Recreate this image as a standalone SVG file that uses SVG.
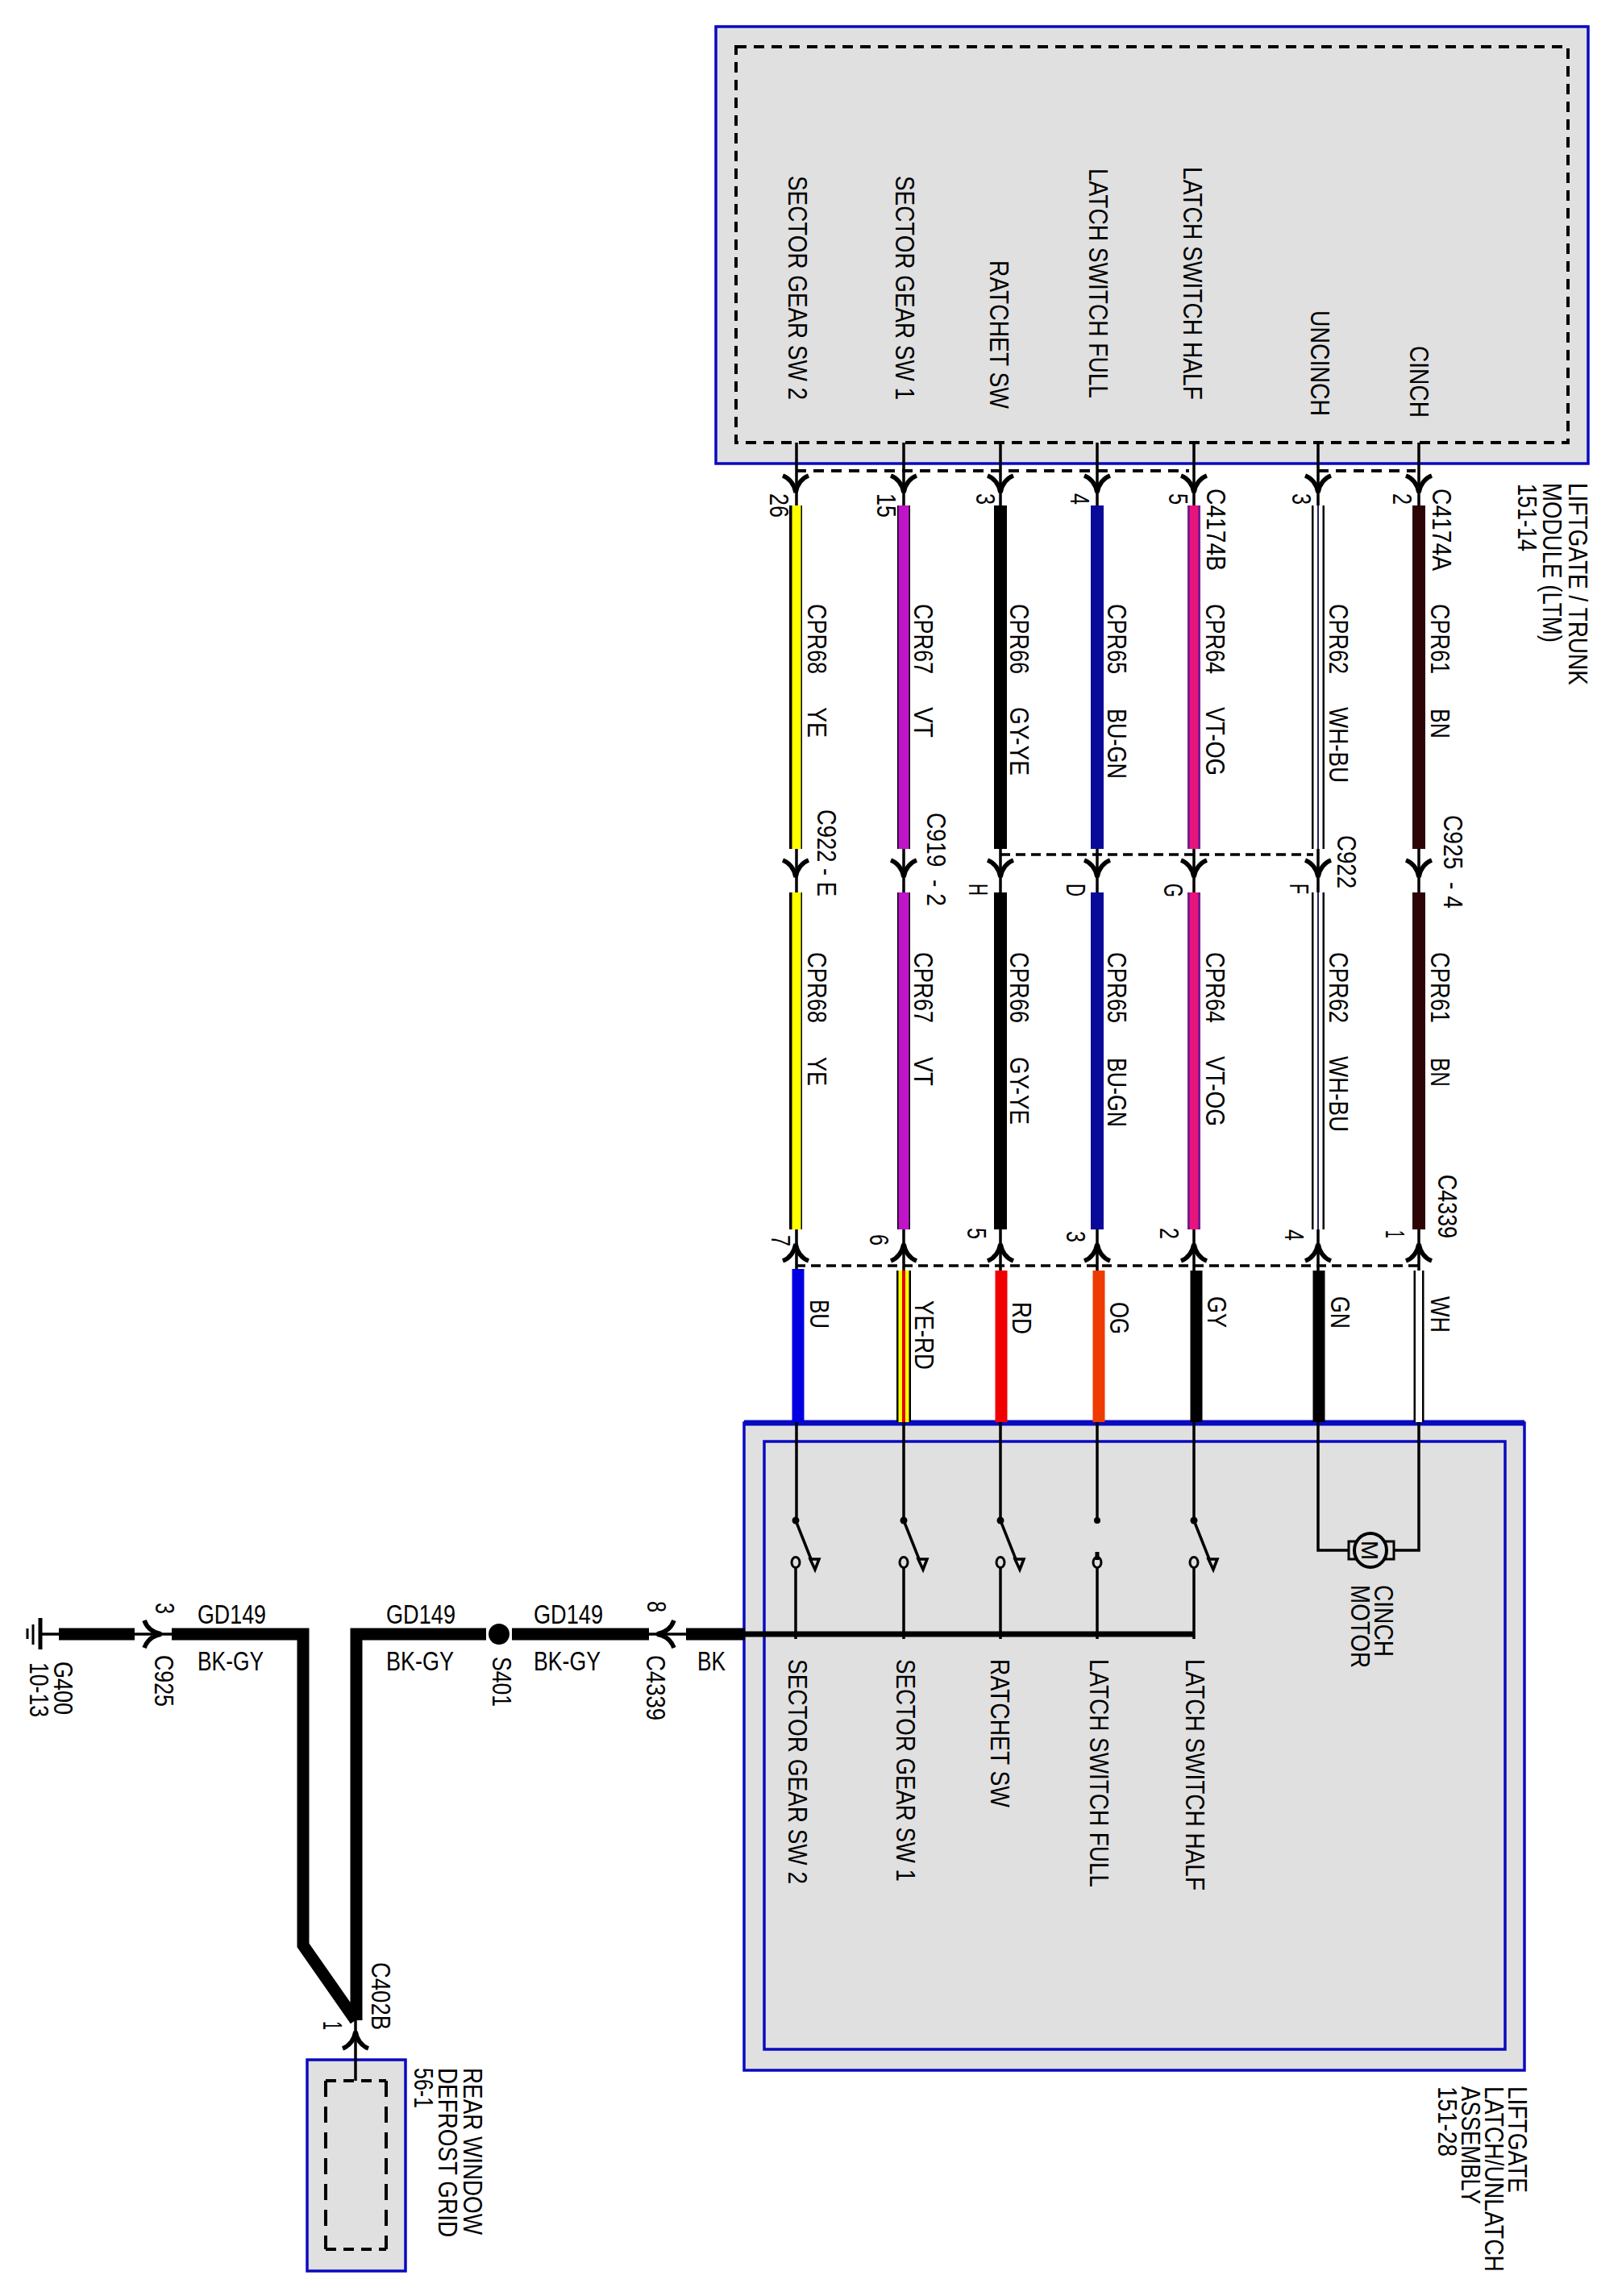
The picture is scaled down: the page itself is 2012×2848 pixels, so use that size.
<svg xmlns="http://www.w3.org/2000/svg" width="2012" height="2848" viewBox="0 0 2012 2848">
<style>
text{font-family:"Liberation Sans",Arial,sans-serif;font-size:34px;fill:#000}
.box{fill:#e0e0e0;stroke:#0a0ac0;stroke-width:3.5}
.dash{fill:none;stroke:#000;stroke-width:4;stroke-dasharray:13 9}
.dash2{fill:none;stroke:#000;stroke-width:3.5;stroke-dasharray:12 7}
.thin{stroke:#000;stroke-width:3.5;fill:none}
.thick{stroke:#000;stroke-width:15;fill:none}
.cont{fill:none;stroke:#000;stroke-width:3}
.chev{fill:none;stroke:#000;stroke-width:5.5}
</style>
<defs>
<path id="dn" class="chev" d="M-16-11Q-3-6 0 10Q3-6 16-11"/>
<path id="up" class="chev" d="M-16 11Q-3 6 0-10Q3 6 16 11"/>
<path id="rt" class="chev" d="M-11-17Q-6-3 10 0Q-6 3-11 17"/>
<path id="lf" class="chev" d="M11-17Q6-3-10 0Q6 3 11 17"/>
<g id="sw">
<circle cx="0" cy="1886" r="4.5"/>
<path class="thin" d="M0 1886L19 1934M0 1945V2033"/>
<ellipse class="cont" cx="0" cy="1938" rx="5" ry="6.5"/>
<path d="M18 1934h11l-5 13z" fill="none" stroke="#000" stroke-width="3.5"/>
</g>
</defs>

<g id="module-ltm">
<rect class="box" x="888" y="33" width="1082" height="542"/>
<rect class="dash" x="913" y="58" width="1032" height="491"/>
<g transform="translate(3 0)">
<text transform="translate(975 218) rotate(90)" textLength="278" lengthAdjust="spacingAndGlyphs">SECTOR GEAR SW 2</text>
<text transform="translate(1108 218) rotate(90)" textLength="278" lengthAdjust="spacingAndGlyphs">SECTOR GEAR SW 1</text>
<text transform="translate(1225 323) rotate(90)" textLength="184" lengthAdjust="spacingAndGlyphs">RATCHET SW</text>
<text transform="translate(1348 209) rotate(90)" textLength="285" lengthAdjust="spacingAndGlyphs">LATCH SWITCH FULL</text>
<text transform="translate(1465 207) rotate(90)" textLength="289" lengthAdjust="spacingAndGlyphs">LATCH SWITCH HALF</text>
<text transform="translate(1623 385) rotate(90)" textLength="131" lengthAdjust="spacingAndGlyphs">UNCINCH</text>
<text transform="translate(1746 429) rotate(90)" textLength="89" lengthAdjust="spacingAndGlyphs">CINCH</text>
<text transform="translate(1943 599) rotate(90)" textLength="251" lengthAdjust="spacingAndGlyphs">LIFTGATE / TRUNK</text>
<text transform="translate(1911 599) rotate(90)" textLength="198" lengthAdjust="spacingAndGlyphs">MODULE (LTM)</text>
<text transform="translate(1880 600) rotate(90)" textLength="84" lengthAdjust="spacingAndGlyphs">151-14</text>
</g>
</g>

<g id="module-latch">
<rect class="box" x="923" y="1765" width="968" height="803"/>
<path d="M923 1765H1891" stroke="#0a0ac0" stroke-width="7"/>
<rect class="box" x="948" y="1788" width="919" height="754"/>
<g transform="translate(3 0)">
<text transform="translate(975 2058) rotate(90)" textLength="279" lengthAdjust="spacingAndGlyphs">SECTOR GEAR SW 2</text>
<text transform="translate(1109 2058) rotate(90)" textLength="276" lengthAdjust="spacingAndGlyphs">SECTOR GEAR SW 1</text>
<text transform="translate(1226 2058) rotate(90)" textLength="184" lengthAdjust="spacingAndGlyphs">RATCHET SW</text>
<text transform="translate(1349 2058) rotate(90)" textLength="283" lengthAdjust="spacingAndGlyphs">LATCH SWITCH FULL</text>
<text transform="translate(1468 2058) rotate(90)" textLength="287" lengthAdjust="spacingAndGlyphs">LATCH SWITCH HALF</text>
<text transform="translate(1702 1966) rotate(90)" textLength="89" lengthAdjust="spacingAndGlyphs">CINCH</text>
<text transform="translate(1673 1966) rotate(90)" textLength="103" lengthAdjust="spacingAndGlyphs">MOTOR</text>
<text transform="translate(1868 2588) rotate(90)" textLength="132" lengthAdjust="spacingAndGlyphs">LIFTGATE</text>
<text transform="translate(1839 2588) rotate(90)" textLength="230" lengthAdjust="spacingAndGlyphs">LATCH/UNLATCH</text>
<text transform="translate(1810 2588) rotate(90)" textLength="146" lengthAdjust="spacingAndGlyphs">ASSEMBLY</text>
<text transform="translate(1781 2588) rotate(90)" textLength="87" lengthAdjust="spacingAndGlyphs">151-28</text>
</g>
</g>

<g id="module-defrost">
<rect class="box" x="381" y="2555" width="122" height="262"/>
<path class="dash" d="M404 2581H479M404 2790H479"/>
<path fill="none" stroke="#000" stroke-width="4" stroke-dasharray="20 12" d="M404 2581V2790M479 2581V2790"/>
<g transform="translate(2 0)">
<text transform="translate(573 2565) rotate(90)" textLength="207" lengthAdjust="spacingAndGlyphs">REAR WINDOW</text>
<text transform="translate(542 2565) rotate(90)" textLength="210" lengthAdjust="spacingAndGlyphs">DEFROST GRID</text>
<text transform="translate(512 2565) rotate(90)" textLength="50" lengthAdjust="spacingAndGlyphs">56-1</text>
</g>
</g>

<g id="connectors">
<path class="thin" d="M988 549V1886M1121 549V1886M1241 549V1886M1361 549V1886M1481 549V1886M1635 549V1923H1673M1760 549V1923H1729"/>
<path stroke="#000" stroke-width="16" d="M987 627V1053M987 1107V1525M1121 627V1053M1121 1107V1525M1241 627V1053M1241 1107V1525M1361 627V1053M1361 1107V1525M1481 627V1053M1481 1107V1525M1635 627V1053M1635 1107V1525"/>
<g fill="none">
<path stroke="#ffff00" stroke-width="11" d="M988 627V1053M988 1107V1525"/>
<path stroke="#c014c8" stroke-width="13" d="M1121 627V1053M1121 1107V1525"/>
<path stroke="#0a0a9a" stroke-width="16" d="M1361 627V1053M1361 1107V1525"/>
<path stroke="#7a1a8a" stroke-width="16" d="M1481 627V1053M1481 1107V1525"/>
<path stroke="#e8147c" stroke-width="10" d="M1481 627V1053M1481 1107V1525"/>
<path stroke="#fff" stroke-width="11" d="M1635 627V1053M1635 1107V1525"/>
<path stroke="#222266" stroke-width="2" d="M1635 627V1053M1635 1107V1525"/>
<path stroke="#2d0506" stroke-width="16" d="M1760 627V1053M1760 1107V1525"/>
</g>
<g fill="none" stroke-width="15">
<path stroke="#0000e0" d="M990 1574V1764"/>
<path stroke="#000" stroke-width="18" d="M1121 1576V1764"/>
<path stroke="#ffff00" stroke-width="13" d="M1121 1576V1764"/>
<path stroke="#e00000" stroke-width="4" d="M1121 1576V1764"/>
<path stroke="#f00000" d="M1242 1576V1764"/>
<path stroke="#ee3c00" d="M1363 1576V1764"/>
<path stroke="#000" d="M1484 1576V1764M1636 1576V1764"/>
<path stroke="#000" stroke-width="13" d="M1760 1576V1764"/>
<path stroke="#fff" stroke-width="8" d="M1760 1576V1764"/>
</g>
<path class="thick" d="M73 2027H167M213 2027H376V2413L441 2506M442 2506V2027H603M635 2027H805M851 2027H924"/>
<path stroke="#000" stroke-width="7" d="M924 2027H1482"/>
<path class="thin" d="M50 2027H73M167 2027H213M805 2027H851M441 2506V2581"/>
<path class="dash" d="M987 584H1475M1635 584H1756"/>
<path class="dash2" d="M1241 1060H1629M987 1570H1760"/>
</g>

<g id="arrows">
<use href="#dn" x="987" y="601"/><use href="#dn" x="1121" y="601"/><use href="#dn" x="1241" y="601"/><use href="#dn" x="1361" y="601"/><use href="#dn" x="1481" y="601"/><use href="#dn" x="1635" y="601"/><use href="#dn" x="1760" y="601"/>
<use href="#dn" x="987" y="1078"/><use href="#dn" x="1121" y="1078"/><use href="#dn" x="1241" y="1078"/><use href="#dn" x="1361" y="1078"/><use href="#dn" x="1481" y="1078"/><use href="#dn" x="1635" y="1078"/><use href="#dn" x="1760" y="1078"/>
<use href="#up" x="987" y="1553"/><use href="#up" x="1121" y="1553"/><use href="#up" x="1241" y="1553"/><use href="#up" x="1361" y="1553"/><use href="#up" x="1481" y="1553"/><use href="#up" x="1635" y="1553"/><use href="#up" x="1760" y="1553"/>
<use href="#rt" x="190" y="2027"/><use href="#lf" x="825" y="2027"/><use href="#up" x="441" y="2530"/>
</g>

<g id="switches">
<use href="#sw" x="987"/><use href="#sw" x="1121"/><use href="#sw" x="1241"/><use href="#sw" x="1481"/>
<g id="switch-full">
<circle cx="1361" cy="1886" r="4"/><path stroke="#000" stroke-width="5" d="M1361 1925V1935"/>
<ellipse class="cont" cx="1361" cy="1938" rx="5" ry="6.5"/><path class="thin" d="M1361 1945V2033"/>
</g>
</g>

<g id="motor">
<rect x="1673" y="1912" width="56" height="22" fill="none" stroke="#000" stroke-width="3"/>
<ellipse cx="1700" cy="1923" rx="20" ry="21" fill="#e0e0e0" stroke="#000" stroke-width="4"/>
<text transform="translate(1689 1911) rotate(90)" textLength="24" lengthAdjust="spacingAndGlyphs" style="font-size:30px">M</text>
</g>

<g id="ground-g400">
<path stroke="#000" stroke-width="5" d="M50 2007V2046"/>
<path stroke="#000" stroke-width="3" d="M41 2015V2040M34 2020V2033"/>
<g transform="translate(2 0)">
<text transform="translate(65 2061) rotate(90)" textLength="66" lengthAdjust="spacingAndGlyphs">G400</text>
<text transform="translate(35 2062) rotate(90)" textLength="68" lengthAdjust="spacingAndGlyphs">10-13</text>
</g>
</g>
<g id="splice-s401">
<ellipse cx="619" cy="2027" rx="13" ry="13"/>
<text transform="translate(611 2055) rotate(90)" textLength="62" lengthAdjust="spacingAndGlyphs">S401</text>
</g>

<g id="labels-horizontal">
<text x="245" y="2014" textLength="85" lengthAdjust="spacingAndGlyphs">GD149</text>
<text x="245" y="2072" textLength="82" lengthAdjust="spacingAndGlyphs">BK-GY</text>
<text x="479" y="2014" textLength="86" lengthAdjust="spacingAndGlyphs">GD149</text>
<text x="479" y="2072" textLength="84" lengthAdjust="spacingAndGlyphs">BK-GY</text>
<text x="662" y="2014" textLength="86" lengthAdjust="spacingAndGlyphs">GD149</text>
<text x="662" y="2072" textLength="83" lengthAdjust="spacingAndGlyphs">BK-GY</text>
<text x="865" y="2072" textLength="35" lengthAdjust="spacingAndGlyphs">BK</text>
</g>
<g id="labels" transform="translate(3 0)">
<text transform="translate(190 1988) rotate(90)" textLength="14" lengthAdjust="spacingAndGlyphs">3</text>
<text transform="translate(800 1986) rotate(90)" textLength="14" lengthAdjust="spacingAndGlyphs">8</text>
<text transform="translate(189 2053) rotate(90)" textLength="64" lengthAdjust="spacingAndGlyphs">C925</text>
<text transform="translate(799 2053) rotate(90)" textLength="81" lengthAdjust="spacingAndGlyphs">C4339</text>
<text transform="translate(458 2434) rotate(90)" textLength="84" lengthAdjust="spacingAndGlyphs">C402B</text>
<text transform="translate(398 2507) rotate(90)" textLength="11" lengthAdjust="spacingAndGlyphs">1</text>

<text transform="translate(999 749) rotate(90)" textLength="87" lengthAdjust="spacingAndGlyphs">CPR68</text>
<text transform="translate(999 877) rotate(90)" textLength="38" lengthAdjust="spacingAndGlyphs">YE</text>
<text transform="translate(1131 749) rotate(90)" textLength="87" lengthAdjust="spacingAndGlyphs">CPR67</text>
<text transform="translate(1131 877) rotate(90)" textLength="38" lengthAdjust="spacingAndGlyphs">VT</text>
<text transform="translate(1250 749) rotate(90)" textLength="87" lengthAdjust="spacingAndGlyphs">CPR66</text>
<text transform="translate(1250 877) rotate(90)" textLength="85" lengthAdjust="spacingAndGlyphs">GY-YE</text>
<text transform="translate(1371 749) rotate(90)" textLength="87" lengthAdjust="spacingAndGlyphs">CPR65</text>
<text transform="translate(1371 879) rotate(90)" textLength="87" lengthAdjust="spacingAndGlyphs">BU-GN</text>
<text transform="translate(1493 749) rotate(90)" textLength="87" lengthAdjust="spacingAndGlyphs">CPR64</text>
<text transform="translate(1493 877) rotate(90)" textLength="85" lengthAdjust="spacingAndGlyphs">VT-OG</text>
<text transform="translate(1646 749) rotate(90)" textLength="87" lengthAdjust="spacingAndGlyphs">CPR62</text>
<text transform="translate(1646 877) rotate(90)" textLength="94" lengthAdjust="spacingAndGlyphs">WH-BU</text>
<text transform="translate(1772 749) rotate(90)" textLength="87" lengthAdjust="spacingAndGlyphs">CPR61</text>
<text transform="translate(1772 879) rotate(90)" textLength="37" lengthAdjust="spacingAndGlyphs">BN</text>

<text transform="translate(999 1181) rotate(90)" textLength="88" lengthAdjust="spacingAndGlyphs">CPR68</text>
<text transform="translate(999 1311) rotate(90)" textLength="36" lengthAdjust="spacingAndGlyphs">YE</text>
<text transform="translate(1131 1181) rotate(90)" textLength="88" lengthAdjust="spacingAndGlyphs">CPR67</text>
<text transform="translate(1131 1311) rotate(90)" textLength="36" lengthAdjust="spacingAndGlyphs">VT</text>
<text transform="translate(1250 1181) rotate(90)" textLength="88" lengthAdjust="spacingAndGlyphs">CPR66</text>
<text transform="translate(1250 1311) rotate(90)" textLength="84" lengthAdjust="spacingAndGlyphs">GY-YE</text>
<text transform="translate(1371 1181) rotate(90)" textLength="88" lengthAdjust="spacingAndGlyphs">CPR65</text>
<text transform="translate(1371 1312) rotate(90)" textLength="86" lengthAdjust="spacingAndGlyphs">BU-GN</text>
<text transform="translate(1493 1181) rotate(90)" textLength="88" lengthAdjust="spacingAndGlyphs">CPR64</text>
<text transform="translate(1493 1310) rotate(90)" textLength="87" lengthAdjust="spacingAndGlyphs">VT-OG</text>
<text transform="translate(1646 1181) rotate(90)" textLength="88" lengthAdjust="spacingAndGlyphs">CPR62</text>
<text transform="translate(1646 1310) rotate(90)" textLength="94" lengthAdjust="spacingAndGlyphs">WH-BU</text>
<text transform="translate(1772 1181) rotate(90)" textLength="88" lengthAdjust="spacingAndGlyphs">CPR61</text>
<text transform="translate(1772 1312) rotate(90)" textLength="36" lengthAdjust="spacingAndGlyphs">BN</text>

<text transform="translate(952 612) rotate(90)" textLength="30" lengthAdjust="spacingAndGlyphs">26</text>
<text transform="translate(1085 612) rotate(90)" textLength="30" lengthAdjust="spacingAndGlyphs">15</text>
<text transform="translate(1208 612) rotate(90)" textLength="14" lengthAdjust="spacingAndGlyphs">3</text>
<text transform="translate(1325 612) rotate(90)" textLength="14" lengthAdjust="spacingAndGlyphs">4</text>
<text transform="translate(1447 612) rotate(90)" textLength="14" lengthAdjust="spacingAndGlyphs">5</text>
<text transform="translate(1600 612) rotate(90)" textLength="14" lengthAdjust="spacingAndGlyphs">3</text>
<text transform="translate(1725 612) rotate(90)" textLength="14" lengthAdjust="spacingAndGlyphs">2</text>
<text transform="translate(1494 606) rotate(90)" textLength="102" lengthAdjust="spacingAndGlyphs">C4174B</text>
<text transform="translate(1774 606) rotate(90)" textLength="102" lengthAdjust="spacingAndGlyphs">C4174A</text>

<text transform="translate(1011 1004) rotate(90)" textLength="108" lengthAdjust="spacingAndGlyphs">C922 - E</text>
<text transform="translate(1147 1008) rotate(90)" textLength="116" lengthAdjust="spacingAndGlyphs" xml:space="preserve">C919  - 2</text>
<text transform="translate(1656 1036) rotate(90)" textLength="66" lengthAdjust="spacingAndGlyphs">C922</text>
<text transform="translate(1788 1011) rotate(90)" textLength="116" lengthAdjust="spacingAndGlyphs" xml:space="preserve">C925  - 4</text>
<text transform="translate(1199 1096) rotate(90)" textLength="15" lengthAdjust="spacingAndGlyphs">H</text>
<text transform="translate(1320 1096) rotate(90)" textLength="16" lengthAdjust="spacingAndGlyphs">D</text>
<text transform="translate(1441 1096) rotate(90)" textLength="17" lengthAdjust="spacingAndGlyphs">G</text>
<text transform="translate(1597 1096) rotate(90)" textLength="13" lengthAdjust="spacingAndGlyphs">F</text>

<text transform="translate(1781 1457) rotate(90)" textLength="79" lengthAdjust="spacingAndGlyphs">C4339</text>
<text transform="translate(954 1532) rotate(90)" textLength="14" lengthAdjust="spacingAndGlyphs">7</text>
<text transform="translate(1076 1531) rotate(90)" textLength="14" lengthAdjust="spacingAndGlyphs">6</text>
<text transform="translate(1197 1523) rotate(90)" textLength="14" lengthAdjust="spacingAndGlyphs">5</text>
<text transform="translate(1320 1527) rotate(90)" textLength="14" lengthAdjust="spacingAndGlyphs">3</text>
<text transform="translate(1436 1523) rotate(90)" textLength="14" lengthAdjust="spacingAndGlyphs">2</text>
<text transform="translate(1591 1525) rotate(90)" textLength="14" lengthAdjust="spacingAndGlyphs">4</text>
<text transform="translate(1716 1526) rotate(90)" textLength="10" lengthAdjust="spacingAndGlyphs">1</text>

<text transform="translate(1002 1612) rotate(90)" textLength="36" lengthAdjust="spacingAndGlyphs">BU</text>
<text transform="translate(1132 1613) rotate(90)" textLength="86" lengthAdjust="spacingAndGlyphs">YE-RD</text>
<text transform="translate(1253 1615) rotate(90)" textLength="40" lengthAdjust="spacingAndGlyphs">RD</text>
<text transform="translate(1374 1615) rotate(90)" textLength="40" lengthAdjust="spacingAndGlyphs">OG</text>
<text transform="translate(1495 1608) rotate(90)" textLength="39" lengthAdjust="spacingAndGlyphs">GY</text>
<text transform="translate(1648 1608) rotate(90)" textLength="40" lengthAdjust="spacingAndGlyphs">GN</text>
<text transform="translate(1772 1608) rotate(90)" textLength="45" lengthAdjust="spacingAndGlyphs">WH</text>
</g>
</svg>
